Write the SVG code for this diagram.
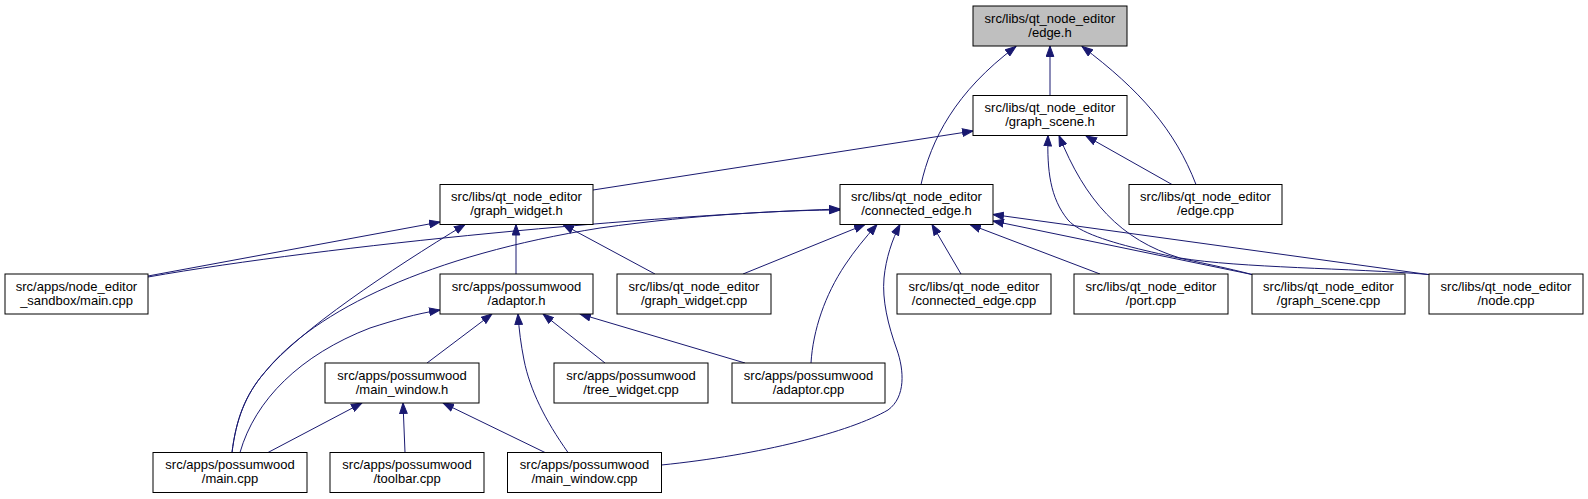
<svg xmlns="http://www.w3.org/2000/svg" width="1588" height="499" viewBox="0 0 1588 499">
<style>
.n rect{fill:#ffffff;stroke:#000000;stroke-width:1}
.n.hl rect{fill:#bfbfbf}
.n text{font-family:"Liberation Sans",Arial,sans-serif;font-size:13px;fill:#000000;text-anchor:middle}
.e path{fill:none;stroke:#191970;stroke-width:1;marker-end:url(#ah)}
</style>
<defs>
<marker id="ah" viewBox="0 0 12 9" refX="11" refY="4.5" markerWidth="12" markerHeight="9" orient="auto" markerUnits="userSpaceOnUse">
<path d="M0.5,0.7 L11,4.5 L0.5,8.3 z" fill="#191970" stroke="#191970" stroke-width="1"/>
</marker>
</defs>
<rect width="1588" height="499" fill="#ffffff"/>
<g id="edges" class="e">
<path d="M1050,95.5 L1050,46"/>
<path d="M921,184.5 C931,140 955,92 1016,46.5"/>
<path d="M1196,184.5 C1175,130 1140,90 1082,46.5"/>
<path d="M593,190 L973,131"/>
<path d="M1172,184.5 L1086,136"/>
<path d="M1252,274.5 C1190,258 1090,245 1068,220 C1050,198 1047,170 1048,135.5"/>
<path d="M1429,274.5 C1350,268 1240,268 1180,258 C1120,240 1085,200 1059,135.5"/>
<path d="M148,276 L440,222"/>
<path d="M232,452.5 C236,420 245,395 265,372 C300,330 390,270 465,224.5"/>
<path d="M516,274 L516,224.5"/>
<path d="M655,274 L563,224.5"/>
<path d="M148,277 C330,245 650,215 840,209"/>
<path d="M232,452.5 C236,420 245,395 265,372 C315,310 430,255 600,228 C700,214 790,210 840,210"/>
<path d="M743,274 L865,224.5"/>
<path d="M811,363 C813,330 825,295 845,265 C855,250 865,238 877,224.5"/>
<path d="M661.5,465 C760,455 850,432 888,410 C906,397 904,370 897,350 C888,325 882,300 884,278 C886,258 892,240 900,224.5"/>
<path d="M961,274 L932,224.5"/>
<path d="M1100,274 L970,224.5"/>
<path d="M1252,274.5 L993,221"/>
<path d="M1428,274.5 L993,214.5"/>
<path d="M240,452.5 C255,400 300,355 370,328 C395,320 415,314 440,310"/>
<path d="M427,363 L492,314"/>
<path d="M605,363 L543,314"/>
<path d="M568,452.5 C545,420 530,390 524,360 C521,345 519,330 518,314"/>
<path d="M745,363 L580,314"/>
<path d="M268,452.5 L362,403"/>
<path d="M405,452.5 L403,403"/>
<path d="M545,452.5 L443,403"/>
</g>
<g id="node1" class="n hl"><rect x="973" y="6" width="154" height="40"/><text x="1050" y="22.5">src/libs/qt_node_editor</text><text x="1050" y="36.5">/edge.h</text></g>
<g id="node2" class="n"><rect x="973" y="95.5" width="154" height="40"/><text x="1050" y="112">src/libs/qt_node_editor</text><text x="1050" y="126">/graph_scene.h</text></g>
<g id="node3" class="n"><rect x="440" y="184.5" width="153" height="40"/><text x="516.5" y="201">src/libs/qt_node_editor</text><text x="516.5" y="215">/graph_widget.h</text></g>
<g id="node4" class="n"><rect x="840" y="184.5" width="153" height="40"/><text x="916.5" y="201">src/libs/qt_node_editor</text><text x="916.5" y="215">/connected_edge.h</text></g>
<g id="node5" class="n"><rect x="1129" y="184.5" width="153" height="40"/><text x="1205.5" y="201">src/libs/qt_node_editor</text><text x="1205.5" y="215">/edge.cpp</text></g>
<g id="node6" class="n"><rect x="5" y="274" width="143" height="40"/><text x="76.5" y="290.5">src/apps/node_editor</text><text x="76.5" y="304.5">_sandbox/main.cpp</text></g>
<g id="node7" class="n"><rect x="440" y="274" width="153" height="40"/><text x="516.5" y="290.5">src/apps/possumwood</text><text x="516.5" y="304.5">/adaptor.h</text></g>
<g id="node8" class="n"><rect x="617" y="274" width="154" height="40"/><text x="694" y="290.5">src/libs/qt_node_editor</text><text x="694" y="304.5">/graph_widget.cpp</text></g>
<g id="node9" class="n"><rect x="897" y="274" width="154" height="40"/><text x="974" y="290.5">src/libs/qt_node_editor</text><text x="974" y="304.5">/connected_edge.cpp</text></g>
<g id="node10" class="n"><rect x="1074" y="274" width="154" height="40"/><text x="1151" y="290.5">src/libs/qt_node_editor</text><text x="1151" y="304.5">/port.cpp</text></g>
<g id="node11" class="n"><rect x="1252" y="274" width="153" height="40"/><text x="1328.5" y="290.5">src/libs/qt_node_editor</text><text x="1328.5" y="304.5">/graph_scene.cpp</text></g>
<g id="node12" class="n"><rect x="1429" y="274" width="154" height="40"/><text x="1506" y="290.5">src/libs/qt_node_editor</text><text x="1506" y="304.5">/node.cpp</text></g>
<g id="node13" class="n"><rect x="325" y="363" width="154" height="40"/><text x="402" y="379.5">src/apps/possumwood</text><text x="402" y="393.5">/main_window.h</text></g>
<g id="node14" class="n"><rect x="554" y="363" width="154" height="40"/><text x="631" y="379.5">src/apps/possumwood</text><text x="631" y="393.5">/tree_widget.cpp</text></g>
<g id="node15" class="n"><rect x="732" y="363" width="153" height="40"/><text x="808.5" y="379.5">src/apps/possumwood</text><text x="808.5" y="393.5">/adaptor.cpp</text></g>
<g id="node16" class="n"><rect x="153" y="452.5" width="154" height="40"/><text x="230" y="469">src/apps/possumwood</text><text x="230" y="483">/main.cpp</text></g>
<g id="node17" class="n"><rect x="330" y="452.5" width="154" height="40"/><text x="407" y="469">src/apps/possumwood</text><text x="407" y="483">/toolbar.cpp</text></g>
<g id="node18" class="n"><rect x="507.5" y="452.5" width="154" height="40"/><text x="584.5" y="469">src/apps/possumwood</text><text x="584.5" y="483">/main_window.cpp</text></g>
</svg>
